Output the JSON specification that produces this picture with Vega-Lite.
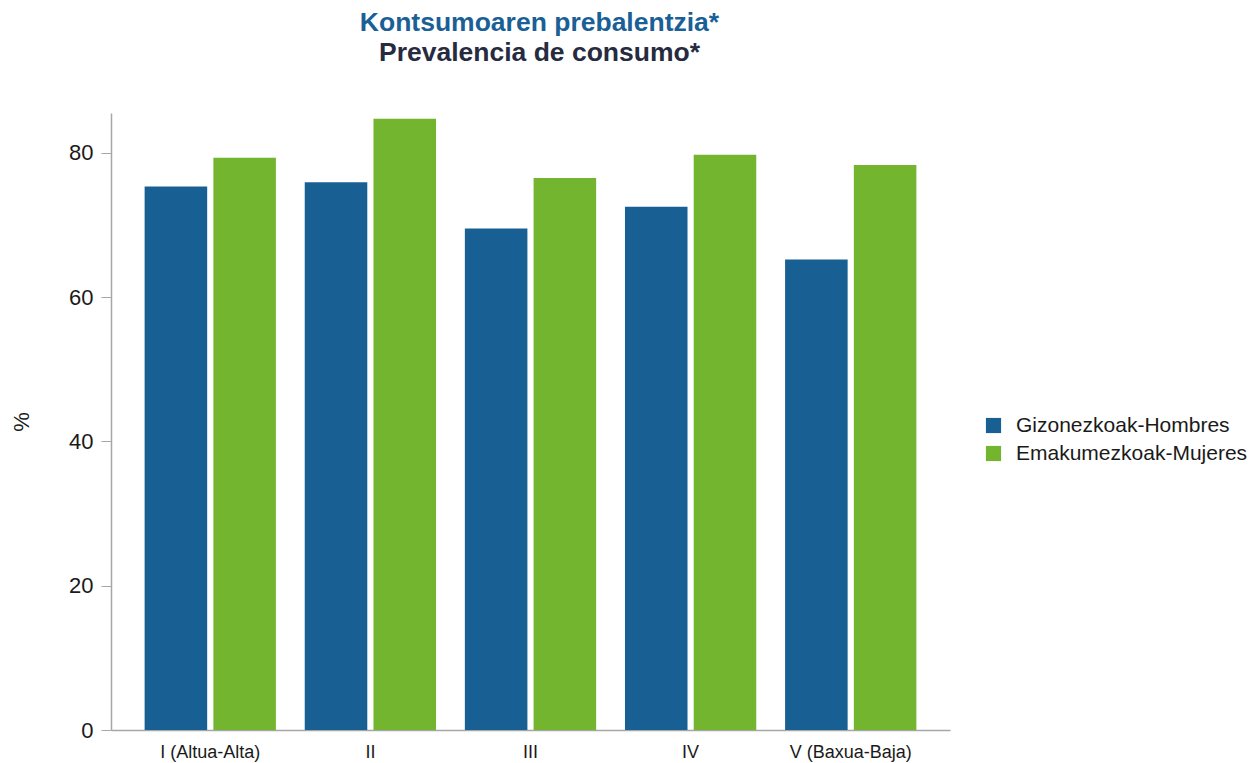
{
  "$schema": "https://vega.github.io/schema/vega-lite/v6.json",
  "autosize": {"type": "none"},
  "padding": {"left": 111, "top": 113, "right": 306, "bottom": 33},
  "width": 839,
  "height": 617,
  "background": "white",
  "config": {"view": {"stroke": null}},
  "title": {
    "text": "Kontsumoaren prebalentzia*",
    "subtitle": "Prevalencia de consumo*",
    "anchor": "middle",
    "frame": "group",
    "font": "Liberation Sans",
    "fontSize": 26.5,
    "fontWeight": "bold",
    "color": "#1a5f96",
    "subtitleFont": "Liberation Sans",
    "subtitleFontSize": 26.5,
    "subtitleFontWeight": "bold",
    "subtitleColor": "#262b40",
    "subtitlePadding": 3,
    "offset": 47,
    "dx": 9
  },
  "data": {
    "values": [
      {"clase": "I (Altua-Alta)", "sexo": "Gizonezkoak-Hombres", "valor": 75.3},
      {"clase": "I (Altua-Alta)", "sexo": "Emakumezkoak-Mujeres", "valor": 79.3},
      {"clase": "II", "sexo": "Gizonezkoak-Hombres", "valor": 75.9},
      {"clase": "II", "sexo": "Emakumezkoak-Mujeres", "valor": 84.7},
      {"clase": "III", "sexo": "Gizonezkoak-Hombres", "valor": 69.5},
      {"clase": "III", "sexo": "Emakumezkoak-Mujeres", "valor": 76.5},
      {"clase": "IV", "sexo": "Gizonezkoak-Hombres", "valor": 72.5},
      {"clase": "IV", "sexo": "Emakumezkoak-Mujeres", "valor": 79.7},
      {"clase": "V (Baxua-Baja)", "sexo": "Gizonezkoak-Hombres", "valor": 65.2},
      {"clase": "V (Baxua-Baja)", "sexo": "Emakumezkoak-Mujeres", "valor": 78.3}
    ]
  },
  "mark": {"type": "bar"},
  "encoding": {
    "x": {
      "field": "clase",
      "type": "nominal",
      "sort": null,
      "scale": {"paddingInner": 0.18, "paddingOuter": 0.21},
      "axis": {
        "title": null,
        "labelAngle": 0,
        "ticks": false,
        "labelPadding": 13,
        "labelFont": "Liberation Sans",
        "labelFontSize": 18,
        "labelColor": "#1a1a1a",
        "domainColor": "#a6a6a6",
        "domainWidth": 1.5
      }
    },
    "xOffset": {
      "field": "sexo",
      "type": "nominal",
      "sort": ["Gizonezkoak-Hombres", "Emakumezkoak-Mujeres"],
      "scale": {"paddingInner": 0.09, "paddingOuter": 0}
    },
    "y": {
      "field": "valor",
      "type": "quantitative",
      "scale": {"domain": [0, 85.5], "nice": false},
      "axis": {
        "title": "%",
        "values": [0, 20, 40, 60, 80],
        "grid": false,
        "tickSize": 10,
        "tickColor": "#a6a6a6",
        "domainColor": "#a6a6a6",
        "domainWidth": 1.5,
        "labelPadding": 8,
        "labelFont": "Liberation Sans",
        "labelFontSize": 22,
        "labelColor": "#1a1a1a",
        "titleFont": "Liberation Sans",
        "titleFontSize": 22,
        "titleFontWeight": "normal",
        "titleColor": "#1a1a1a",
        "titlePadding": 35
      }
    },
    "color": {
      "field": "sexo",
      "type": "nominal",
      "sort": ["Gizonezkoak-Hombres", "Emakumezkoak-Mujeres"],
      "scale": {
        "domain": ["Gizonezkoak-Hombres", "Emakumezkoak-Mujeres"],
        "range": ["#185f93", "#74b530"]
      },
      "legend": {
        "title": null,
        "orient": "none",
        "legendX": 872,
        "legendY": 302,
        "symbolType": "square",
        "symbolSize": 230,
        "symbolStrokeWidth": 0,
        "labelFont": "Liberation Sans",
        "labelFontSize": 21,
        "labelColor": "#1a1a1a",
        "labelLimit": 400,
        "rowPadding": 6,
        "labelOffset": 12
      }
    }
  }
}
